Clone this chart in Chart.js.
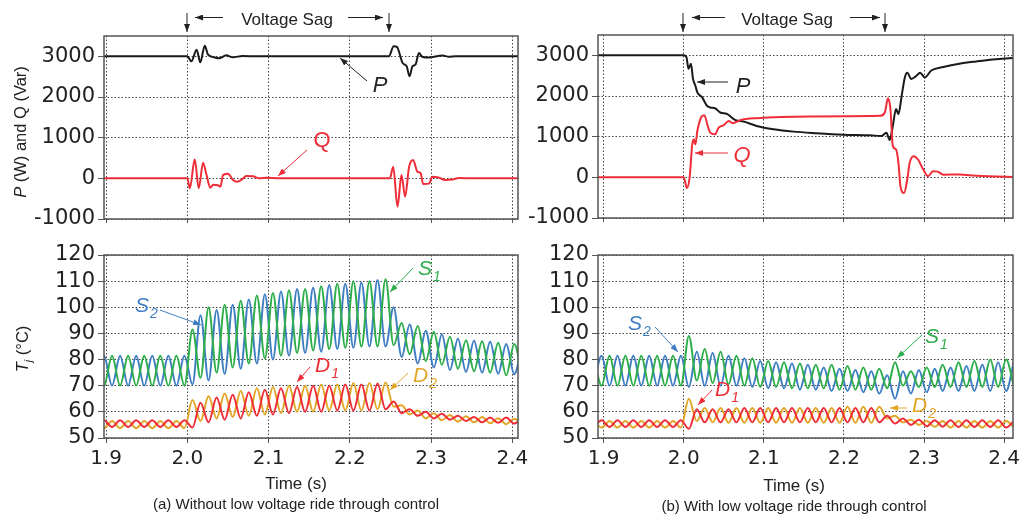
<!DOCTYPE html>
<html><head><meta charset="utf-8">
<script src="https://cdn.jsdelivr.net/npm/chart.js@4.4.1/dist/chart.umd.min.js"></script>
<style>
body{margin:0;background:#fff;width:1021px;height:514px;overflow:hidden;position:relative;font-family:"Liberation Sans",Arial,sans-serif;color:#222;}
canvas{position:absolute;}
.t{position:absolute;white-space:nowrap;line-height:1;transform:translate(-50%,-50%);}
.lab{position:absolute;white-space:nowrap;line-height:1;transform:translate(0,-50%);font-size:21px;font-style:italic;}
.lab span{font-size:14px;position:relative;top:6px;margin-left:1px;}
.yt{position:absolute;white-space:nowrap;line-height:1;transform:translate(-50%,-50%) rotate(-90deg);font-size:16.5px;}
svg{position:absolute;left:0;top:0;}
</style></head><body>
<canvas id="tl" style="left:0px;top:0px;width:560px;height:235px" width="560" height="235"></canvas>
<canvas id="tr" style="left:520px;top:0px;width:501px;height:235px" width="501" height="235"></canvas>
<canvas id="bl" style="left:0px;top:235px;width:560px;height:245px" width="560" height="245"></canvas>
<canvas id="br" style="left:520px;top:235px;width:501px;height:245px" width="501" height="245"></canvas>

<div class="yt" style="left:20px;top:132px"><i>P</i> (W) and Q (Var)</div>
<div class="yt" style="left:22px;top:349px"><i>T</i><span style="font-size:11px;position:relative;top:4px"><i>j</i></span> (°C)</div>

<div class="t" style="left:287px;top:19px;font-size:17px">Voltage Sag</div>
<div class="t" style="left:787px;top:19px;font-size:17px">Voltage Sag</div>

<div class="t" style="left:380px;top:85px;font-size:22px;font-style:italic">P</div>
<div class="t" style="left:322px;top:140px;font-size:22px;color:#EE2D38">Q</div>
<div class="t" style="left:743px;top:86px;font-size:22px;font-style:italic">P</div>
<div class="t" style="left:742px;top:155px;font-size:22px;font-style:italic;color:#EE2D38">Q</div>

<div class="lab" style="left:135px;top:304px;color:#3F7EC3">S<span>2</span></div>
<div class="lab" style="left:418px;top:267px;color:#2DAE4A">S<span>1</span></div>
<div class="lab" style="left:315px;top:364px;color:#EE2D38">D<span>1</span></div>
<div class="lab" style="left:413px;top:374px;color:#E2A626">D<span>2</span></div>
<div class="lab" style="left:628px;top:322px;color:#3F7EC3">S<span>2</span></div>
<div class="lab" style="left:925px;top:335px;color:#2DAE4A">S<span>1</span></div>
<div class="lab" style="left:715px;top:388px;color:#EE2D38">D<span>1</span></div>
<div class="lab" style="left:912px;top:404px;color:#E2A626">D<span>2</span></div>

<div class="t" style="left:296px;top:483px;font-size:17px">Time (s)</div>
<div class="t" style="left:794px;top:485px;font-size:17px">Time (s)</div>
<div class="t" style="left:296px;top:503px;font-size:15px">(a) Without low voltage ride through control</div>
<div class="t" style="left:794px;top:505px;font-size:15px">(b) With low voltage ride through control</div>

<svg width="1021" height="514" viewBox="0 0 1021 514">
<defs>
<marker id="mk" markerUnits="userSpaceOnUse" markerWidth="8" markerHeight="6" refX="8" refY="3" orient="auto"><path d="M0,0 L8,3 L0,6 z" fill="#222"/></marker>
<marker id="mr" markerUnits="userSpaceOnUse" markerWidth="8" markerHeight="6" refX="8" refY="3" orient="auto"><path d="M0,0 L8,3 L0,6 z" fill="#EE2D38"/></marker>
<marker id="mg" markerUnits="userSpaceOnUse" markerWidth="8" markerHeight="6" refX="8" refY="3" orient="auto"><path d="M0,0 L8,3 L0,6 z" fill="#2DAE4A"/></marker>
<marker id="mb" markerUnits="userSpaceOnUse" markerWidth="8" markerHeight="6" refX="8" refY="3" orient="auto"><path d="M0,0 L8,3 L0,6 z" fill="#3F7EC3"/></marker>
<marker id="my" markerUnits="userSpaceOnUse" markerWidth="8" markerHeight="6" refX="8" refY="3" orient="auto"><path d="M0,0 L8,3 L0,6 z" fill="#E2A626"/></marker>
</defs>
<g stroke="#222" stroke-width="1" fill="none">
<line x1="187" y1="13" x2="187" y2="32" marker-end="url(#mk)"/>
<line x1="223" y1="17.5" x2="195" y2="17.5" marker-end="url(#mk)"/>
<line x1="348" y1="17.5" x2="383" y2="17.5" marker-end="url(#mk)"/>
<line x1="389" y1="13" x2="389" y2="32" marker-end="url(#mk)"/>
<line x1="683" y1="13" x2="683" y2="32" marker-end="url(#mk)"/>
<line x1="725" y1="17.5" x2="692" y2="17.5" marker-end="url(#mk)"/>
<line x1="850" y1="17.5" x2="880" y2="17.5" marker-end="url(#mk)"/>
<line x1="885" y1="13" x2="885" y2="32" marker-end="url(#mk)"/>
<line x1="367" y1="81" x2="340" y2="58" marker-end="url(#mk)"/>
<line x1="728" y1="82" x2="697" y2="82" marker-end="url(#mk)"/>
</g>
<g stroke="#EE2D38" stroke-width="1" fill="none">
<line x1="307" y1="150" x2="278" y2="176" marker-end="url(#mr)"/>
<line x1="728" y1="153" x2="695" y2="153" marker-end="url(#mr)"/>
<line x1="310" y1="367" x2="297" y2="382" marker-end="url(#mr)"/>
<line x1="712" y1="390" x2="698" y2="405" marker-end="url(#mr)"/>
</g>
<g stroke="#3F7EC3" stroke-width="1" fill="none">
<line x1="160" y1="310" x2="201" y2="325" marker-end="url(#mb)"/>
<line x1="655" y1="327" x2="678" y2="352" marker-end="url(#mb)"/>
</g>
<g stroke="#2DAE4A" stroke-width="1" fill="none">
<line x1="413" y1="268" x2="390" y2="292" marker-end="url(#mg)"/>
<line x1="922" y1="335" x2="897" y2="358" marker-end="url(#mg)"/>
</g>
<g stroke="#E2A626" stroke-width="1" fill="none">
<line x1="408" y1="373" x2="390" y2="390" marker-end="url(#my)"/>
<line x1="907" y1="408" x2="890" y2="408" marker-end="url(#my)"/>
</g>
</svg>

<script>
// ---------- tick labels ----------
const xTicks = [1.9, 2.0, 2.1, 2.2, 2.3, 2.4];
const pqTicks = [-1000, 0, 1000, 2000, 3000];
const tjTicks = [50, 60, 70, 80, 90, 100, 110, 120];

// ---------- P and Q, without LVRT (a) ----------
const tPa = [1.88,2.0,2.005,2.0115,2.016,2.0215,2.0255,2.032,2.039,2.048,2.056,2.068,2.085,2.248,2.254,2.258,2.265,2.27,2.2735,2.277,2.281,2.285,2.289,2.297,2.314,2.322,2.33,2.42];
const Pa  = [3000,3000,2877,3164,2852,3262,3041,2984,2950,3025,2975,3010,3000,3000,3246,3230,2836,2754,2508,2750,2800,3082,2990,2970,3020,2990,3000,3000];
const tQa = [1.88,2.0,2.0031,2.0092,2.0141,2.0194,2.0235,2.0284,2.0317,2.0378,2.0407,2.044,2.0501,2.0562,2.0611,2.0665,2.0726,2.0808,2.089,2.0971,2.1135,2.2493,2.2534,2.2587,2.2636,2.2681,2.273,2.2779,2.2832,2.2873,2.2902,2.2975,2.3016,2.3078,2.318,2.3262,2.3344,2.3507,2.42];
const Qa  = [0,0,-246,467,-246,385,100,-230,-160,-170,-210,80,110,-40,-82,-40,57,50,0,15,0,0,287,-697,82,-451,287,451,164,120,-139,-130,41,30,-41,-30,10,0,0];

// ---------- P and Q, with LVRT (b) ----------
const tPb = [1.88,2.0,2.0033,2.006,2.009,2.0116,2.0145,2.017,2.023,2.029,2.033,2.039,2.0456,2.054,2.064,2.075,2.091,2.112,2.137,2.166,2.199,2.232,2.247,2.253,2.257,2.261,2.265,2.268,2.272,2.276,2.279,2.284,2.29,2.295,2.301,2.309,2.324,2.344,2.365,2.386,2.411,2.42];
const Pb  = [3000,3000,2959,2670,2793,2421,2256,2090,1967,1760,1719,1700,1595,1560,1413,1370,1264,1182,1124,1085,1050,1033,1017,1099,917,1264,1678,1554,2000,2455,2570,2421,2488,2570,2455,2628,2711,2793,2851,2900,2934,2940];
const tQb = [1.88,2.0,2.004,2.0075,2.0104,2.0124,2.0145,2.017,2.0216,2.0257,2.03,2.033,2.039,2.0436,2.05,2.056,2.061,2.0705,2.091,2.158,2.245,2.251,2.255,2.258,2.261,2.265,2.268,2.2705,2.275,2.279,2.282,2.287,2.2925,2.299,2.305,2.311,2.317,2.324,2.344,2.365,2.42];
const Qb  = [0,0,-264,25,769,934,810,1140,1471,1529,1264,1099,1058,1223,1281,1388,1331,1405,1455,1496,1512,1595,1942,1678,769,686,355,-223,-388,-58,355,521,438,190,25,149,140,66,70,40,0];

// ---------- junction temperature: times of successive peaks / troughs ----------
const tT = [1.8876,1.8975,1.9074,1.9173,1.9272,1.9371,1.9470,1.9569,1.9668,1.9767,
            1.9866,1.9965,2.0064,2.0163,2.0262,2.0361,2.0460,2.0559,2.0658,2.0757,
            2.0856,2.0955,2.1054,2.1153,2.1252,2.1351,2.1450,2.1549,2.1648,2.1747,
            2.1846,2.1945,2.2044,2.2143,2.2242,2.2341,2.2440,2.2539,2.2638,2.2737,
            2.2836,2.2935,2.3034,2.3133,2.3232,2.3331,2.3430,2.3529,2.3628,2.3727,
            2.3826,2.3925,2.4024,2.4123];

// (a) without LVRT
const S1a = [81.5,70,81.5,70,81.5,70,81.5,70,81.5,70,81.5,70,91.5,73,100,75,101,77,102.5,78.5,104.5,80.5,105.5,81.5,106.5,82.5,107,83.5,108,84,109,84.5,110,85,110,85,110.7,85.5,94,82,92.8,79.5,90.6,78,88.7,76.5,87.4,75.5,87,75,86.4,74,86,73.5];
const S2a = [70,81.5,70,81.5,70,81.5,70,81.5,70,81.5,70,81.5,70.5,97,72,99,74.5,101,76.5,103,78.5,105,80,106,81.5,107,82.5,107.5,83,108.5,84,109,84.5,109.5,85,110.4,85,100,81,93.4,78.5,91,77,89.7,76,88,75.3,87.2,75,86.8,74.6,86,74.4,85.5];
const D1a = [54.2,56.8,54.2,56.8,54.2,56.8,54.2,56.8,54.2,56.8,54.2,56.8,54,63.5,56,65.5,57,66.5,57.5,67.5,58.5,68.5,59,69,59.5,69.5,60,70,60,70,60.5,70.5,60.5,70.5,60.5,70.8,61,64,59.5,61,58.5,60,57.5,59.3,57,58.5,56.5,58,56,57.8,55.8,57.8,55.5,57.5];
const D2a = [56.5,53.8,56.5,53.8,56.5,53.8,56.5,53.8,56.5,53.8,56.5,53.8,64.5,56.5,66,57.5,67,58,68,58.5,69,59,69.5,59.5,70,60,70,60,70.5,60.5,70.5,60.5,71,60.5,71,61,71.2,62,62.5,59,60.5,57.5,59.5,56.8,58.8,56.3,58.3,56,58,55.6,57.6,55.3,57.4,55];

// (b) with LVRT
const S1b = [81.5,70,81.5,70,81.5,70,81.5,70,81.5,70,81.5,70,89,72,84,71,83,70.5,81.5,70,80.5,69.5,79.5,69.5,79,69,78.5,69,78,69,78,68.5,77.5,68.5,77,68.5,76.5,69,79,70,75.5,69.5,77,69.5,78,69.5,79,69.5,79.5,69.5,80,69.5,80,69.5];
const S2b = [70,81.5,70,81.5,70,81.5,70,81.5,70,81.5,70,81.5,69.5,83,70,82.5,70,81.5,70,80.5,69.5,79.5,69,79,69,78.5,68.5,78,68.5,77,68,76.5,68,76,67.5,75.5,67,74,65,75.5,67,76,67.5,76.5,68,77,68,77.5,68,78,68,79,68,79.5];
const D1b = [54.2,56.8,54.2,56.8,54.2,56.8,54.2,56.8,54.2,56.8,54.2,56.8,53.5,61,56,61,56,61,56,61.5,56,61.5,56,61.5,56,61.5,56,61.5,56,61.5,56,61.5,56,61.5,56,61.5,56,58.5,55.5,57.5,55,57,54.5,56.8,54.3,56.8,54.2,56.8,54.2,56.8,54.2,56.8,54,56.5];
const D2b = [56.5,54,56.5,54,56.5,54,56.5,54,56.5,54,56.5,54,65,56.5,61.5,56,61.5,55.8,61.5,55.8,61.5,55.8,61.5,55.8,61.5,55.8,61.5,55.8,61.5,55.8,61.5,55.8,62,55.8,62,55.8,62,57.5,58.5,56,57,55,56.5,54.3,56.5,54,56.5,54,56.5,54,56.5,54,56.5,54];

// ---------- styling ----------
const C = {S1:'#2DAE4A', S2:'#3F7EC3', D1:'#EE2D38', D2:'#E2A626', P:'#1a1a1a', Q:'#EE2D38'};
const TICKFONT = '"DejaVu Sans", "Liberation Sans", sans-serif';
const GRID = '#444';

const pts = (ts, vs) => ts.map((t, i) => ({x: t, y: vs[i]}));
const ds = (ts, vs, color) => ({data: pts(ts, vs), borderColor: color, borderWidth: 2, pointRadius: 0, fill: false, cubicInterpolationMode: 'monotone'});

const framePlugin = {
  id: 'frame',
  afterDatasetsDraw(chart) {
    const {ctx, chartArea: a} = chart;
    ctx.save();
    ctx.strokeStyle = '#555';
    ctx.lineWidth = 1.5;
    ctx.strokeRect(a.left, a.top, a.right - a.left, a.bottom - a.top);
    ctx.restore();
  }
};

function panel(id, g, datasets) {
  return new Chart(document.getElementById(id), {
    type: 'line',
    data: {datasets},
    options: {
      responsive: false, animation: false, events: [],
      layout: {padding: {left: 0, top: g.padTop, right: g.padRight, bottom: g.padBottom}},
      plugins: {legend: {display: false}, tooltip: {enabled: false}},
      scales: {
        x: {
          type: 'linear', min: g.xmin, max: g.xmax,
          afterBuildTicks: s => { s.ticks = xTicks.map(v => ({value: v})); },
          afterFit: s => { s.height = g.xh; s.paddingLeft = 0; s.paddingRight = 0; },
          ticks: {display: g.showX, autoSkip: false, maxRotation: 0, padding: 4,
                  callback: v => Number(v).toFixed(1),
                  font: {size: 20, family: TICKFONT}, color: '#222'},
          grid: {color: GRID, lineWidth: 1, drawTicks: true, tickLength: g.showX ? 5 : 4, tickColor: '#555', tickBorderDash: []},
          border: {display: false, dash: [1.5, 2]}
        },
        y: {
          type: 'linear', min: g.ymin, max: g.ymax,
          afterBuildTicks: s => { s.ticks = g.yTicks.map(v => ({value: v})); },
          afterFit: s => { s.width = g.yw; s.paddingTop = 0; s.paddingBottom = 0; },
          ticks: {autoSkip: false, padding: 3, callback: v => String(v),
                  font: {size: 21, family: TICKFONT}, color: '#222'},
          grid: {color: GRID, lineWidth: 1, drawTicks: true, tickLength: 6, tickColor: '#555', tickBorderDash: []},
          border: {display: false, dash: [1.5, 2]}
        }
      }
    },
    plugins: [framePlugin]
  });
}

panel('tl', {padTop: 36, padRight: 42, padBottom: 8, xh: 8, yw: 104, xmin: 1.8975, xmax: 2.407, ymin: -1000, ymax: 3500, yTicks: pqTicks, showX: false},
  [ds(tQa, Qa, C.Q), ds(tPa, Pa, C.P)]);
panel('tr', {padTop: 35, padRight: 8, padBottom: 9, xh: 8, yw: 78, xmin: 1.893, xmax: 2.411, ymin: -1000, ymax: 3500, yTicks: pqTicks, showX: false},
  [ds(tQb, Qb, C.Q), ds(tPb, Pb, C.P)]);
panel('bl', {padTop: 20, padRight: 42, padBottom: 8, xh: 34, yw: 104, xmin: 1.8975, xmax: 2.407, ymin: 50, ymax: 120, yTicks: tjTicks, showX: true},
  [ds(tT, S1a, C.S1), ds(tT, S2a, C.S2), ds(tT, D1a, C.D1), ds(tT, D2a, C.D2)]);
panel('br', {padTop: 20, padRight: 8, padBottom: 8, xh: 34, yw: 78, xmin: 1.893, xmax: 2.411, ymin: 50, ymax: 120, yTicks: tjTicks, showX: true},
  [ds(tT, S1b, C.S1), ds(tT, S2b, C.S2), ds(tT, D1b, C.D1), ds(tT, D2b, C.D2)]);
</script>
</body></html>
